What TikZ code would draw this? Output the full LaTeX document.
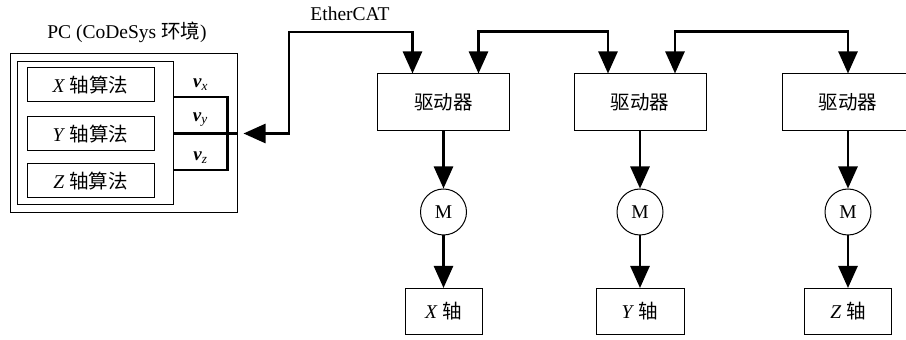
\documentclass[tikz,border=0pt]{standalone}
\usepackage{fontspec}
\setmainfont{Liberation Serif}
\newfontfamily\cjk{Noto Sans CJK SC}
\usetikzlibrary{arrows.meta, positioning, calc}

\newcommand{\vel}[1]{\textbf{\textit{v}}\textsubscript{\textit{#1}}}

\begin{document}
\begin{tikzpicture}[x=1pt, y=1pt, on grid,
        >={Triangle[length=22pt, width=19pt]},
        font=\fontsize{19.5}{23}\selectfont,
        frame/.style={draw, line width=1pt, inner sep=0pt},
        alg/.style={frame, minimum width=127pt, minimum height=34pt},
        drive/.style={frame, minimum width=132pt, minimum height=57pt},
        motor/.style={circle, draw, line width=1pt, minimum size=46pt, inner sep=0pt},
        axbox/.style={frame, minimum height=46pt},
        bus/.style={line width=2.6pt},
        lbl/.style={above=2pt, font=\fontsize{19}{22}\selectfont}]
        \useasboundingbox (0,0) rectangle (906,340);

        % PC side
        \node[frame, minimum width=227pt, minimum height=159pt] (pc) at (123.5,206.5) {};
        \node (pctext) at (127,308) {PC (CoDeSys {\cjk 环境})};
        \node[frame, minimum width=156pt, minimum height=143pt] (algo) at (95,206.5) {};
        \node[alg] (yalg) at (90.5,206) {\textit{Y} {\cjk 轴算法}};
        \node[alg] (xalg) [above=49 of yalg] {\textit{X} {\cjk 轴算法}};
        \node[alg] (zalg) [below=47 of yalg] {\textit{Z} {\cjk 轴算法}};

        \coordinate (vx) at ($(algo.east)+(0,36.5)$);
        \coordinate (vz) at ($(algo.east)+(0,-36.5)$);
        \coordinate (bx) at ($(vx)+(54,0)$);
        \coordinate (bz) at ($(vz)+(54,0)$);
        \draw[bus] (vx) -- node[lbl] {\vel{x}} (bx) -- (bz) -- node[lbl] {\vel{z}} (vz);
        \draw[bus] (algo.east) -- node[lbl, pos=0.42] {\vel{y}} (pc.east);

        % drives, motors and axes
        \node[drive] (drvx) at (443.5,237.5) {\cjk 驱动器};
        \node[drive] (drvy) [right=196.5 of drvx] {\cjk 驱动器};
        \node[drive] (drvz) [right=208 of drvy] {\cjk 驱动器};

        \node[motor] (motx) [below=109.5 of drvx] {M};
        \node[motor] (moty) [below=109.5 of drvy] {M};
        \node[motor] (motz) [below=109.5 of drvz] {M};

        \node[axbox, minimum width=77pt] (axx) [below=99.5 of motx] {\textit{X} {\cjk 轴}};
        \node[axbox, minimum width=88pt] (axy) [below=99.5 of moty] {\textit{Y} {\cjk 轴}};
        \node[axbox, minimum width=87pt] (axz) [below=99.5 of motz] {\textit{Z} {\cjk 轴}};

        \path[->, bus]
        (drvx) edge (motx)
        (motx) edge (axx)
        (drvy) edge (moty)
        (moty) edge (axy)
        (drvz) edge (motz)
        (motz) edge (axz);

        % EtherCAT chain
        \coordinate (ecat) at (289,308);
        \node (ecattext) at (350,326) {EtherCAT};
        \draw[bus, <->, shorten <=6pt] (pc.east) -| (ecat) -| ($(drvx.north)+(-31,0)$);
        \draw[bus, <->] ($(drvx.north)+(35,0)$) -- ++(0,42) -| ($(drvy.north)+(-32,0)$);
        \draw[bus, <->] ($(drvy.north)+(35,0)$) -- ++(0,42) -| (drvz.north);
\end{tikzpicture}
\end{document}
